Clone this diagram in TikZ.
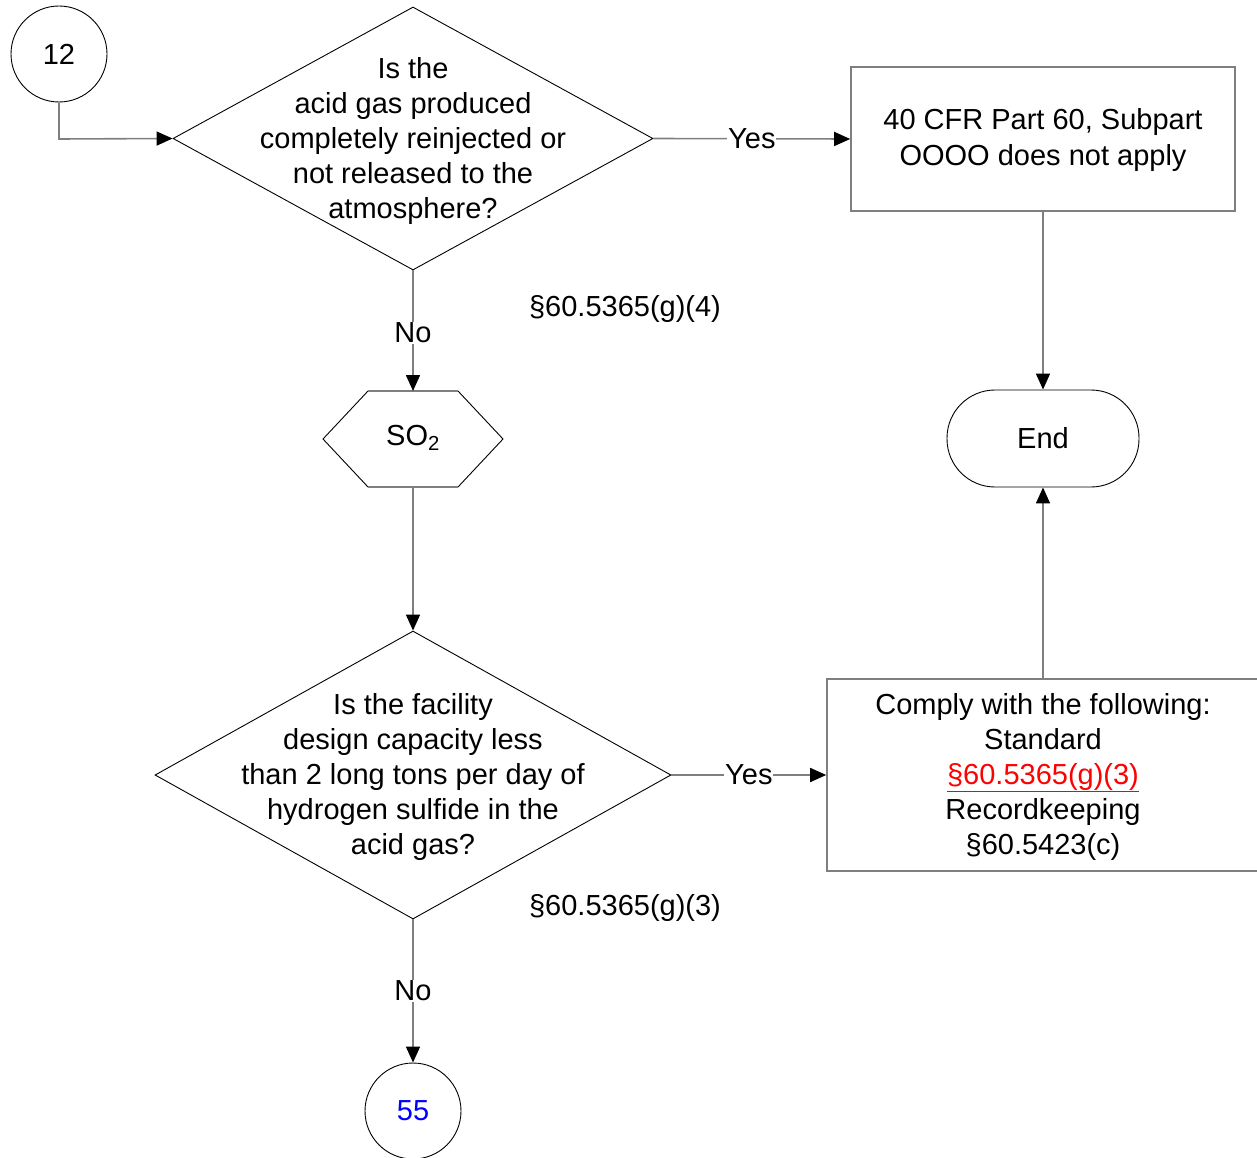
\documentclass[tikz,border=0pt]{standalone}
\usepackage{fontspec}
\setmainfont{Liberation Sans}
\usetikzlibrary{shapes.geometric,arrows.meta}
\definecolor{linegray}{HTML}{7F7F7F}
\begin{document}
\begin{tikzpicture}[x=1pt,y=-1pt,
  every node/.style={font=\fontsize{29}{35}\selectfont, inner sep=0pt},
  conn/.style={draw=linegray, line width=1.6pt, -{Triangle[length=16pt,width=14pt,color=black]}},
  plainconn/.style={draw=linegray, line width=1.6pt},
  outline/.style={draw=black, line width=0.9pt},
  boxed/.style={draw=linegray, line width=1.6pt, rectangle},
  lbl/.style={fill=white, inner sep=1pt},
  txt/.style={align=center}]
\useasboundingbox (0,0) rectangle (1257,1158);
% connector circle 12
\node[outline, circle, minimum size=96pt] (c12) at (59,54) {12};
% diamond 1
\node[outline, diamond, minimum width=480pt, minimum height=263pt, aspect=1.825] (d1) at (413,138.5) {};
\node[txt] (d1t) at (413,141) {Is the\\acid gas produced\\completely reinjected or\\not released to the\\atmosphere?};
% box 1
\node[boxed, minimum width=384pt, minimum height=144pt] (b1) at (1043,139) {};
\node[txt] (b1t) at (1043,140) {40 CFR Part 60, Subpart\\[1pt]OOOO does not apply};
% End
\node[draw=black, line width=0.9pt, rectangle, rounded corners=48pt, minimum width=192pt, minimum height=97pt] (end) at (1043,438.5) {End};
% hexagon
\coordinate (hxt) at (413,391);
\coordinate (hxb) at (413,487);
\draw[outline] (368,391) -- (323,439) -- (368,487);
\draw[outline] (458,391) -- (503,439) -- (458,487);
\draw[plainconn] (368,391) -- (458,391);
\draw[plainconn] (368,487) -- (458,487);
\node (hx) at (413,438) {SO\textsubscript{2}};
% diamond 2
\node[outline, diamond, minimum width=516pt, minimum height=288pt, aspect=1.79] (d2) at (413,775) {};
\node[txt] (d2t) at (413,777) {Is the facility\\design capacity less\\than 2 long tons per day of\\hydrogen sulfide in the\\acid gas?};
% box 2
\node[boxed, minimum width=432pt, minimum height=192pt] (b2) at (1043,775) {};
\node[txt] (b2t) at (1043,776.5) {Comply with the following:\\Standard\\{\color{red}\underline{§60.5365(g)(3)}}\\Recordkeeping\\§60.5423(c)};
% circle 55
\node[outline, circle, minimum size=96pt, text=blue] (c55) at (413,1111) {55};
% references
\node (r1) at (625,309) {§60.5365(g)(4)};
\node (r2) at (625,908) {§60.5365(g)(3)};
% connectors
\coordinate (k1) at (59,139);
\draw[conn] (c12.south) -- (k1) -- (d1.west);
\draw[conn] (d1.east) -- node[lbl]{Yes} (b1.west);
\draw[conn] (b1.south) -- (end.north);
\draw[conn] (d1.south) -- node[lbl, pos=0.5, yshift=-2pt]{No} (hxt);
\draw[conn] (hxb) -- (d2.north);
\draw[conn] (d2.east) -- node[lbl]{Yes} (b2.west);
\draw[conn] (b2.north) -- (end.south);
\draw[conn] (d2.south) -- node[lbl, pos=0.5]{No} (c55.north);
\end{tikzpicture}
\end{document}
